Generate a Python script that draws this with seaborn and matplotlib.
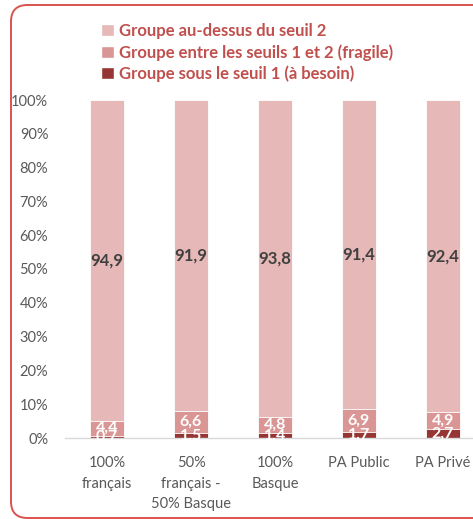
import matplotlib
matplotlib.use("Agg")
import matplotlib.pyplot as plt
import seaborn as sns
import pandas as pd
import numpy as np
from matplotlib.patches import FancyBboxPatch, Patch

categories = ["100%\nfrançais", "50%\nfrançais -\n50% Basque", "100%\nBasque", "PA Public", "PA Privé"]
sous_seuil1 = [0.7, 1.5, 1.4, 1.7, 2.7]
entre_seuils = [4.4, 6.6, 4.8, 6.9, 4.9]
dessus_seuil2 = [94.9, 91.9, 93.8, 91.4, 92.4]
series_names = ["Groupe au-dessus du seuil 2",
                "Groupe entre les seuils 1 et 2 (fragile)",
                "Groupe sous le seuil 1 (à besoin)"]
yticks = [0, 10, 20, 30, 40, 50, 60, 70, 80, 90, 100]

sns.set_theme(style="white")
plt.rcParams["font.family"] = ["Lato", "DejaVu Sans"]

c_top, c_mid, c_bot = "#E6B8B7", "#DA9694", "#963634"

fig = plt.figure(figsize=(4.73, 5.19), dpi=100)
ax = fig.add_axes([65 / 473, (519 - 438) / 519, 420 / 473, 338 / 519])

b = np.array(sous_seuil1)
m = np.array(entre_seuils)
t = np.array(dessus_seuil2)
df = pd.DataFrame({"cat": categories, "bot": b, "mid": b + m, "top": b + m + t})

for col, color in [("top", c_top), ("mid", c_mid), ("bot", c_bot)]:
    sns.barplot(data=df, x="cat", y=col, color=color, width=0.4, ax=ax,
                edgecolor="white", linewidth=0.6, saturation=1)

for i in range(len(categories)):
    ax.text(i, b[i] + m[i] + t[i] / 2, f"{t[i]:.1f}".replace(".", ","),
            ha="center", va="center", fontsize=12, fontweight="bold", color="#404040")
    ax.text(i, b[i] + m[i] / 2, f"{m[i]:.1f}".replace(".", ","),
            ha="center", va="center", fontsize=11.5, fontweight="bold", color="white")
    ax.text(i, b[i] / 2, f"{b[i]:.1f}".replace(".", ","),
            ha="center", va="center", fontsize=11.5, fontweight="bold", color="white")

ax.set_xlim(-0.5, 4.5)
ax.set_ylim(0, 100)
ax.set_yticks(yticks)
ax.set_yticklabels([f"{v}%" for v in yticks], color="#595959", fontsize=10.5)
ax.set_xticks(range(len(categories)))
ax.set_xticklabels(categories, color="#595959", fontsize=10.5, linespacing=1.6)
ax.set_xlabel("")
ax.set_ylabel("")
ax.tick_params(axis="both", length=0)
ax.tick_params(axis="y", pad=12)
ax.tick_params(axis="x", pad=13)
for s in ["top", "right", "left"]:
    ax.spines[s].set_visible(False)
ax.spines["bottom"].set_color("#D9D9D9")
ax.spines["bottom"].set_linewidth(1)
ax.patch.set_alpha(0)

handles = [Patch(facecolor=c_top), Patch(facecolor=c_mid), Patch(facecolor=c_bot)]
leg = fig.legend(handles, series_names, loc="upper left", bbox_to_anchor=(101 / 473, 1 - 23 / 519),
                 frameon=False, handlelength=0.75, handleheight=0.75, handletextpad=0.3,
                 labelspacing=0.3, fontsize=12, borderaxespad=0, borderpad=0)
for txt in leg.get_texts():
    txt.set_color("#C0504D")
    txt.set_fontweight("bold")

frame = FancyBboxPatch((11 / 473, 1 / 519), 1.2, 1 - 6 / 519,
                       boxstyle="round,pad=0,rounding_size=0.035",
                       transform=fig.transFigure, fill=False, edgecolor="#D9534F",
                       linewidth=1.4, clip_on=False, mutation_aspect=473 / 519)
fig.patches.append(frame)

fig.savefig("out.png", dpi=100)
